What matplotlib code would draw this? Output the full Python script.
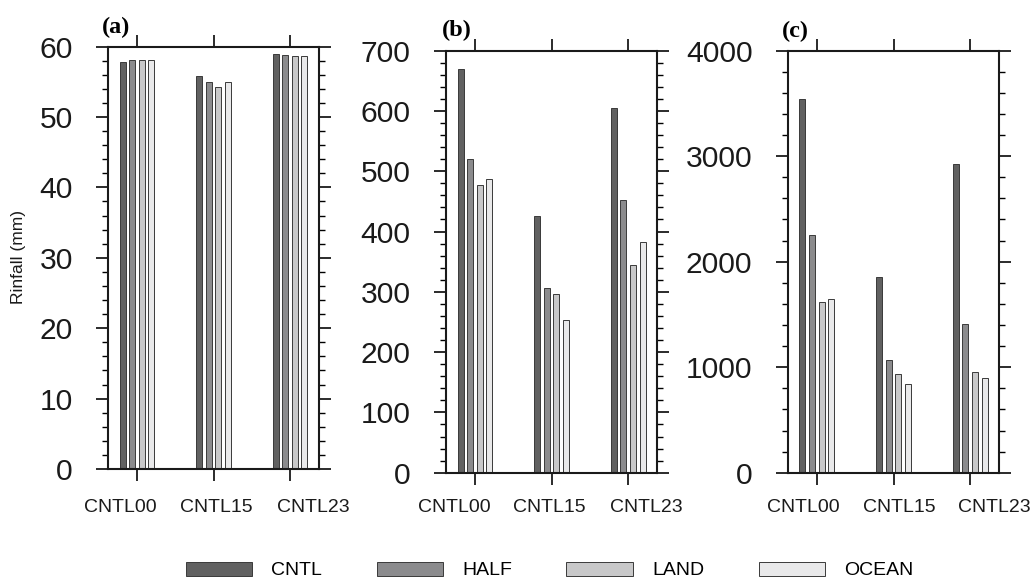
import numpy as np
import matplotlib
matplotlib.use('Agg')
import matplotlib.pyplot as plt
import matplotlib.transforms as mtransforms
from matplotlib.ticker import MultipleLocator

plt.rcParams['font.family'] = ['Liberation Sans', 'DejaVu Sans']

# data
cases = ['CNTL00', 'CNTL15', 'CNTL23']
series = ['CNTL', 'HALF', 'LAND', 'OCEAN']
colors = ['#616161', '#8b8b8d', '#c8c8c9', '#e9e9ea']

rain_a = [[57.8, 55.8, 59.0],
          [58.1, 55.0, 58.8],
          [58.15, 54.3, 58.7],
          [58.1, 54.9, 58.65]]
rain_b = [[670, 426, 605],
          [521, 306, 453],
          [478, 297, 344],
          [488, 253, 382]]
rain_c = [[3545, 1852, 2923],
          [2250, 1065, 1409],
          [1615, 938, 957],
          [1643, 838, 895]]

panels = ['(a)', '(b)', '(c)']
ymax = [60, 700, 4000]
ymajor = [10, 100, 1000]
yminor = [2, 20, 200]

W, H = 1033, 580
fig = plt.figure(figsize=(W / 100, H / 100), dpi=100)

# axes boxes in pixels: left, top, right, bottom
boxes = [(108, 46.5, 319, 469), (446, 50.7, 657.3, 472.7), (787.7, 50.7, 999.3, 472.7)]
xpads = [13.5, 10.5, 10.5]
label_pos = [(102, 27.5), (442, 30), (782, 31.7)]
# tick labels sit a bit spread out from the ticks (pixels)
label_shift = [[-17, 3, 23], [-21, -2, 18], [-14, 6, 24]]

width = 0.078
step = 0.125
x = np.arange(len(cases))
handles = []
for i, data in enumerate([rain_a, rain_b, rain_c]):
    l, t, r, b = boxes[i]
    ax = fig.add_axes([l / W, 1 - b / H, (r - l) / W, (b - t) / H])
    for k in range(len(series)):
        bars = ax.bar(x + (k - 1.5) * step, data[k], width, color=colors[k],
                      edgecolor='#3a3a3a', linewidth=0.7, label=series[k])
        if i == 0:
            handles.append(bars)
    ax.set_xlim(-0.38, 2.38)
    ax.set_ylim(0, ymax[i])
    ax.set_xticks(x)
    ax.set_xticklabels(cases, fontsize=14)
    ax.yaxis.set_major_locator(MultipleLocator(ymajor[i]))
    ax.yaxis.set_minor_locator(MultipleLocator(yminor[i]))
    ax.tick_params(axis='y', which='major', direction='out', length=8.4, width=1.3,
                   labelsize=21.6, left=True, right=True, pad=17, colors='#1a1a1a')
    ax.tick_params(axis='y', which='minor', direction='out', length=4.1, width=1.0,
                   left=True, right=True)
    ax.tick_params(axis='x', which='major', direction='out', length=8.4, width=1.3,
                   top=True, bottom=True, pad=xpads[i], colors='#1a1a1a')
    # shift after tick_params, which resets the label transforms
    for tick, dx in zip(ax.xaxis.get_major_ticks(), label_shift[i]):
        off = mtransforms.ScaledTranslation(dx / 100, 0, fig.dpi_scale_trans)
        tick.label1.set_transform(tick.label1.get_transform() + off)
    for sp in ax.spines.values():
        sp.set_linewidth(1.5)
        sp.set_color('#1a1a1a')
    fig.text(label_pos[i][0] / W, 1 - label_pos[i][1] / H, panels[i],
             family=['Liberation Serif', 'DejaVu Serif'], fontweight='bold',
             fontsize=17.5, ha='left', va='center')

fig.text(19 / W, 1 - 257 / H, 'Rinfall (mm)', rotation=90, fontsize=12.5,
         ha='center', va='center', color='#1a1a1a')

fig.legend(handles=handles, labels=series, loc='center', ncol=4,
           bbox_to_anchor=(549.5 / W, 1 - 570.5 / H), frameon=False,
           fontsize=14, handlelength=3.4, handleheight=0.72,
           handletextpad=1.0, columnspacing=2.8, borderpad=0)

fig.savefig('out.png', dpi=100)
